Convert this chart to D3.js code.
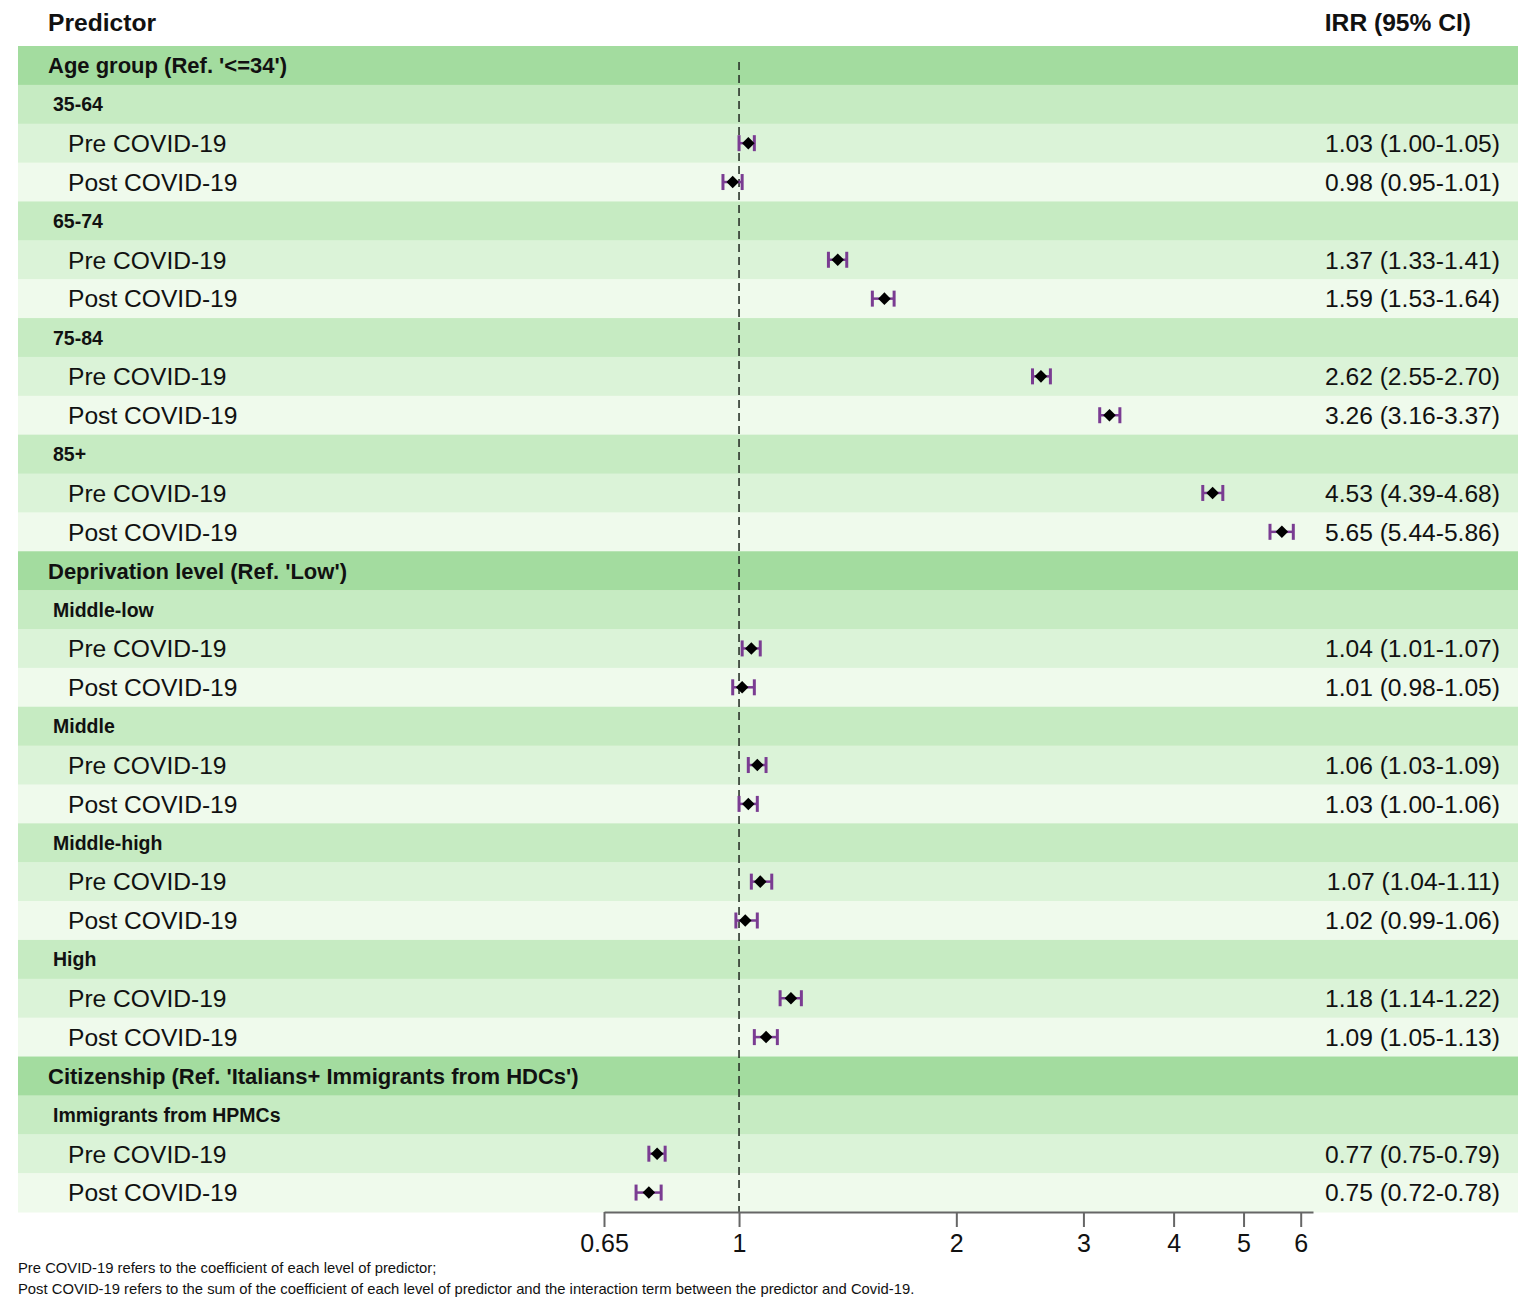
<!DOCTYPE html>
<html>
<head>
<meta charset="utf-8">
<script src="https://cdn.jsdelivr.net/npm/d3@7"></script>
<style>
  body { margin: 0; background: #fff; }
  text { font-family: "Liberation Sans", Arial, sans-serif; fill: #111; }
</style>
</head>
<body>
<script>
// Forest plot data
var sections = ["Age group (Ref. '<=34')", "Deprivation level (Ref. 'Low')",
                "Citizenship (Ref. 'Italians+ Immigrants from HDCs')"];
var levels = ["35-64", "65-74", "75-84", "85+", "Middle-low", "Middle", "Middle-high", "High",
              "Immigrants from HPMCs"];
var levelSection = [0, 0, 0, 0, 1, 1, 1, 1, 2];
var periods = ["Pre COVID-19", "Post COVID-19"];

var preIRR  = [1.03, 1.37, 2.62, 4.53, 1.04, 1.06, 1.07, 1.18, 0.77];
var preLow  = [1.00, 1.33, 2.55, 4.39, 1.01, 1.03, 1.04, 1.14, 0.75];
var preHigh = [1.05, 1.41, 2.70, 4.68, 1.07, 1.09, 1.11, 1.22, 0.79];
var postIRR  = [0.98, 1.59, 3.26, 5.65, 1.01, 1.03, 1.02, 1.09, 0.75];
var postLow  = [0.95, 1.53, 3.16, 5.44, 0.98, 1.00, 0.99, 1.05, 0.72];
var postHigh = [1.01, 1.64, 3.37, 5.86, 1.05, 1.06, 1.06, 1.13, 0.78];

var xTicks = [0.65, 1, 2, 3, 4, 5, 6];

var w = 1535;
var h = 1313;

// flatten into table rows
var rows = [];
var lastSec = -1;
levels.forEach(function(lv, i) {
	if (levelSection[i] !== lastSec) {
		lastSec = levelSection[i];
		rows.push({type: 'section', label: sections[lastSec]});
	}
	rows.push({type: 'level', label: lv});
	rows.push({type: 'pre', label: periods[0], est: preIRR[i], lo: preLow[i], hi: preHigh[i]});
	rows.push({type: 'post', label: periods[1], est: postIRR[i], lo: postLow[i], hi: postHigh[i]});
});

var fills = {section: '#a3dc9f', level: '#c6ebc2', pre: '#dbf3d8', post: '#effaec'};
var fonts = {section: '22px', level: '19.5px', pre: '24.6px', post: '24.6px'};

var svg = d3.select('body')
	.append('svg')
	.attr('width', w)
	.attr('height', h);

var y = d3.scaleBand()
	.domain(d3.range(rows.length))
	.range([46, 1212]);

var x = d3.scaleLog()
	.domain([0.65, 6.24])
	.range([604, 1313]);

// row backgrounds
svg.selectAll('rect.bg')
	.data(rows)
	.enter()
	.append('rect')
	.attr('class', 'bg')
	.attr('x', 18)
	.attr('width', 1500)
	.attr('y', function(d, i) { return y(i); })
	.attr('height', y.bandwidth() + 0.5)
	.attr('fill', function(d) { return fills[d.type]; });

// headers
svg.append('text').attr('x', 48).attr('y', 31)
	.attr('font-size', '24.6px').attr('font-weight', 'bold').text('Predictor');
svg.append('text').attr('x', 1471).attr('y', 31).attr('text-anchor', 'end')
	.attr('font-size', '24.6px').attr('font-weight', 'bold').text('IRR (95% CI)');

// row labels
svg.selectAll('text.lab')
	.data(rows)
	.enter()
	.append('text')
	.attr('class', 'lab')
	.attr('x', function(d) { return d.type === 'section' ? 48 : d.type === 'level' ? 53 : 68; })
	.attr('y', function(d, i) { return y(i) + y.bandwidth() / 2; })
	.attr('dy', '0.36em')
	.attr('font-size', function(d) { return fonts[d.type]; })
	.attr('font-weight', function(d) { return d.type === 'section' || d.type === 'level' ? 'bold' : 'normal'; })
	.text(function(d) { return d.label; });

// IRR text
var fmt = d3.format('.2f');
var est = rows.map(function(d, i) { return {d: d, i: i}; }).filter(function(o) { return o.d.est !== undefined; });

svg.selectAll('text.val')
	.data(est)
	.enter()
	.append('text')
	.attr('class', 'val')
	.attr('x', 1500)
	.attr('y', function(o) { return y(o.i) + y.bandwidth() / 2; })
	.attr('dy', '0.36em')
	.attr('text-anchor', 'end')
	.attr('font-size', '24.6px')
	.text(function(o) { return fmt(o.d.est) + ' (' + fmt(o.d.lo) + '-' + fmt(o.d.hi) + ')'; });

// reference line at 1
svg.append('line')
	.attr('x1', x(1)).attr('x2', x(1))
	.attr('y1', 62).attr('y2', 1212)
	.attr('stroke', '#2a332a')
	.attr('stroke-width', 1.6)
	.attr('stroke-dasharray', '8,5');

// CI bars
var ci = svg.selectAll('g.ci')
	.data(est)
	.enter()
	.append('g')
	.attr('class', 'ci')
	.attr('transform', function(o) { return 'translate(0,' + (y(o.i) + y.bandwidth() / 2) + ')'; });

ci.append('line')
	.attr('x1', function(o) { return x(o.d.lo); })
	.attr('x2', function(o) { return x(o.d.hi); })
	.attr('stroke', '#7a3c92').attr('stroke-width', 2.5);
ci.append('line')
	.attr('x1', function(o) { return x(o.d.lo); })
	.attr('x2', function(o) { return x(o.d.lo); })
	.attr('y1', -8).attr('y2', 8)
	.attr('stroke', '#7a3c92').attr('stroke-width', 3);
ci.append('line')
	.attr('x1', function(o) { return x(o.d.hi); })
	.attr('x2', function(o) { return x(o.d.hi); })
	.attr('y1', -8).attr('y2', 8)
	.attr('stroke', '#7a3c92').attr('stroke-width', 3);
ci.append('path')
	.attr('d', d3.symbol().type(d3.symbolDiamond2).size(100))
	.attr('transform', function(o) { return 'translate(' + x(o.d.est) + ',0)'; })
	.attr('fill', '#000');

// x axis
var axis = svg.append('g')
	.attr('transform', 'translate(0,1212)')
	.call(d3.axisBottom(x).tickValues(xTicks).tickSize(15).tickSizeOuter(0).tickPadding(7)
		.tickFormat(function(d) { return String(d); }));
axis.select('.domain').attr('stroke', '#666').attr('stroke-width', 2);
axis.selectAll('.tick line').attr('stroke', '#666').attr('stroke-width', 2);
axis.selectAll('.tick text')
	.attr('font-family', '"Liberation Sans", Arial, sans-serif')
	.attr('font-size', '25px')
	.attr('fill', '#111');

// footnotes
svg.append('text').attr('x', 18).attr('y', 1273).attr('font-size', '14.8px')
	.text('Pre COVID-19 refers to the coefficient of each level of predictor;');
svg.append('text').attr('x', 18).attr('y', 1294).attr('font-size', '14.8px')
	.text('Post COVID-19 refers to the sum of the coefficient of each level of predictor and the interaction term between the predictor and Covid-19.');
</script>
</body>
</html>
